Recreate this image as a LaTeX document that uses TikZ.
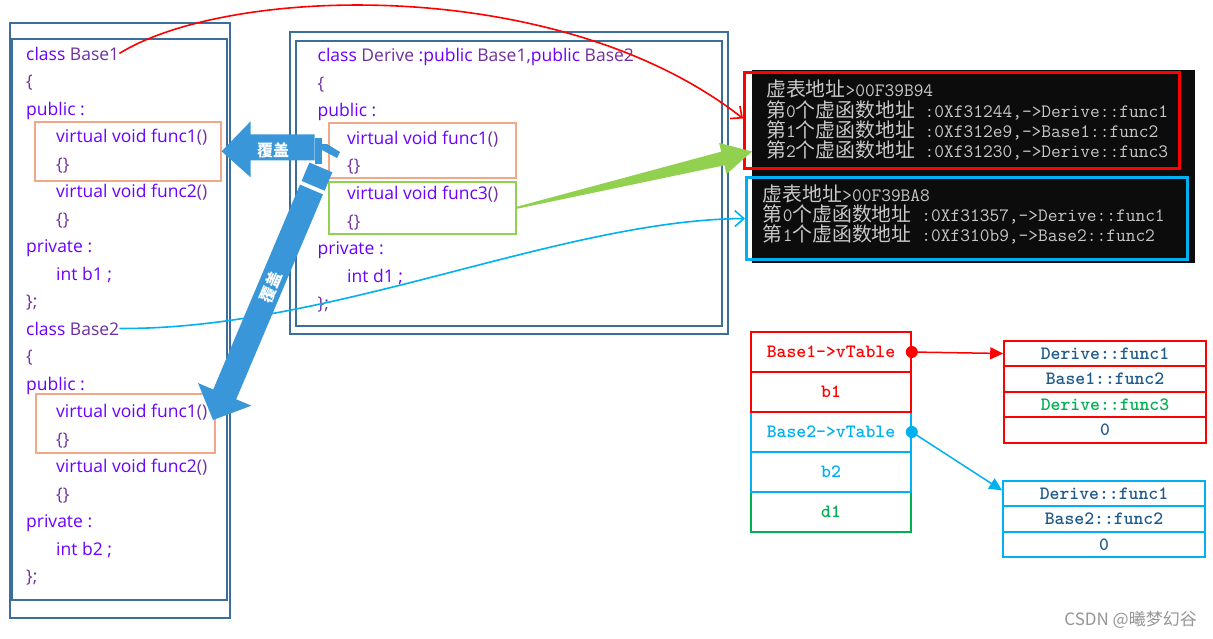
\documentclass[tikz,border=0pt]{standalone}
\usepackage{fontspec}
\setmainfont{Open Sans}
\newfontfamily\cjk{Noto Sans CJK SC}
\usetikzlibrary{arrows.meta,calc}
\definecolor{kw}{RGB}{106,0,255}
\definecolor{idc}{RGB}{112,48,160}
\definecolor{panel}{RGB}{60,110,155}
\definecolor{orng}{RGB}{242,168,136}
\definecolor{grn}{RGB}{146,208,80}
\definecolor{bluA}{RGB}{57,151,217}
\definecolor{cyn}{RGB}{0,176,240}
\definecolor{tgrn}{RGB}{0,176,80}
\definecolor{navy}{RGB}{30,90,140}
\definecolor{congray}{RGB}{200,200,200}
\definecolor{conbg}{RGB}{12,12,12}
\newcommand\Pid[1]{\textcolor{idc}{#1}}
\newcommand\cjkc{\cjk\fontsize{19.86}{20}\selectfont}
\tikzset{
  code/.style={anchor=base west, inner sep=0pt, text=kw, font=\fontsize{17.5}{20}\selectfont},
  panelbox/.style={draw=panel, line width=2pt, anchor=north west, inner sep=0pt},
  hbox/.style={line width=1.6pt, anchor=north west, inner sep=0pt},
  conline/.style={anchor=base west, inner sep=0pt, text=congray, font=\ttfamily\fontsize{18.9}{20}\selectfont},
  cell/.style={draw, line width=1.6pt, minimum width=160pt, minimum height=40pt, inner sep=0pt, font=\ttfamily\bfseries\fontsize{18.8}{20}\selectfont},
  vcell/.style={draw, line width=1.6pt, minimum width=202pt, minimum height=25.5pt, inner sep=0pt, text=navy, font=\ttfamily\bfseries\fontsize{18.8}{20}\selectfont},
  fo/.style={text=white, inner sep=0pt, font=\cjk\bfseries\fontsize{16}{16}\selectfont}
}
\begin{document}
\begin{tikzpicture}[x=1pt,y=-1pt]
\useasboundingbox[fill=white] (0,0) rectangle (1213,638);
% ---------- left panel
\node[panelbox, minimum width=220pt, minimum height=595pt] (lpo) at (9,22) {};
\node[panelbox, minimum width=215pt, minimum height=561pt] (lpi) at (11,38) {};
\node[hbox, draw=orng, minimum width=186pt, minimum height=59pt] (ob1) at (34,121) {};
\node[hbox, draw=orng, minimum width=179pt, minimum height=59pt] (ob2) at (35,393) {};
\node[code] (l1) at (26,60) {class \Pid{Base1}};
\node[code] (l2) at (26,87.5) {\Pid{\{}};
\node[code] (l3) at (26,115) {public :};
\node[code] (l4) at (56,142.5) {virtual void func1\Pid{()}};
\node[code] (l5) at (56,170) {\Pid{\{\}}};
\node[code] (l6) at (56,197.5) {virtual void func2\Pid{()}};
\node[code] (l7) at (56,225) {\Pid{\{\}}};
\node[code] (l8) at (26,252.5) {private :};
\node[code] (l9) at (56,280) {int b1 ;};
\node[code] (l10) at (26,307.5) {\Pid{\};}};
\node[code] (l11) at (26,335) {class \Pid{Base2}};
\node[code] (l12) at (26,362.5) {\Pid{\{}};
\node[code] (l13) at (26,390) {public :};
\node[code] (l14) at (56,417.5) {virtual void func1\Pid{()}};
\node[code] (l15) at (56,445) {\Pid{\{\}}};
\node[code] (l16) at (56,472.5) {virtual void func2\Pid{()}};
\node[code] (l17) at (56,500) {\Pid{\{\}}};
\node[code] (l18) at (26,527.5) {private :};
\node[code] (l19) at (56,555) {int b2 ;};
\node[code] (l20) at (26,582.5) {\Pid{\};}};
% ---------- middle panel
\node[panelbox, minimum width=438pt, minimum height=302pt] (mpo) at (289,31) {};
\node[panelbox, minimum width=426pt, minimum height=285pt] (mpi) at (295,40) {};
\node[hbox, draw=orng, minimum width=187pt, minimum height=55pt] (ob3) at (328,122) {};
\node[hbox, draw=grn, minimum width=187pt, minimum height=52pt] (gb) at (328,181) {};
\node[code] (m1) at (317.5,61.5) {class \Pid{Derive} :public \Pid{Base1,}public \Pid{Base2}};
\node[code] (m2) at (317.5,89) {\Pid{\{}};
\node[code] (m3) at (317.5,116.6) {public :};
\node[code] (m4) at (347,144.2) {virtual void func1\Pid{()}};
\node[code] (m5) at (347,171.8) {\Pid{\{\}}};
\node[code] (m6) at (347,199.4) {virtual void func3\Pid{()}};
\node[code] (m7) at (347,227) {\Pid{\{\}}};
\node[code] (m8) at (317.5,254.6) {private :};
\node[code] (m9) at (347,282.2) {int d1 ;};
\node[code] (m10) at (317.5,309.8) {\Pid{\};}};
% ---------- console
\fill[conbg] (752,70) rectangle (1195,263);
\node[hbox, draw=red, line width=3pt, minimum width=435pt, minimum height=96pt] (redbox) at (743,71) {};
\node[hbox, draw=cyn, line width=3pt, minimum width=441pt, minimum height=82pt] (bluebox) at (745,176) {};
\node[conline] (c1) at (766,96.7) {{\cjkc 虚表地址}>00F39B94};
\node[conline] (c2) at (766,117.3) {{\cjkc 第}0{\cjkc 个虚函数地址} :0Xf31244,->Derive::func1};
\node[conline] (c3) at (766,137.3) {{\cjkc 第}1{\cjkc 个虚函数地址} :0Xf312e9,->Base1::func2};
\node[conline] (c4) at (766,157.3) {{\cjkc 第}2{\cjkc 个虚函数地址} :0Xf31230,->Derive::func3};
\node[conline] (c5) at (762.7,201.7) {{\cjkc 虚表地址}>00F39BA8};
\node[conline] (c6) at (762.7,221.7) {{\cjkc 第}0{\cjkc 个虚函数地址} :0Xf31357,->Derive::func1};
\node[conline] (c7) at (762.7,241.7) {{\cjkc 第}1{\cjkc 个虚函数地址} :0Xf310b9,->Base2::func2};
% ---------- object layout
\node[cell, draw=tgrn, text=tgrn] (s5) at (831,512) {d1};
\node[cell, draw=cyn, text=cyn] (s4) at (831,472) {b2};
\node[cell, draw=cyn, text=cyn] (s3) at (831,432) {Base2->vTable};
\node[cell, draw=red, text=red] (s2) at (831,392) {b1};
\node[cell, draw=red, text=red] (s1) at (831,352) {Base1->vTable};
\node[vcell, draw=red] (t1a) at (1105,353.5) {Derive::func1};
\node[vcell, draw=red] (t1b) at (1105,379) {Base1::func2};
\node[vcell, draw=red, text=tgrn] (t1c) at (1105,404.5) {Derive::func3};
\node[vcell, draw=red] (t1d) at (1105,430) {0};
\node[vcell, draw=cyn] (t2a) at (1104,493.5) {Derive::func1};
\node[vcell, draw=cyn] (t2b) at (1104,519) {Base2::func2};
\node[vcell, draw=cyn] (t2c) at (1104,544.5) {0};
\node[circle, fill=red, inner sep=0pt, minimum size=12pt] (dr) at (s1.east) {};
\node[circle, fill=cyn, inner sep=0pt, minimum size=12pt] (dc) at (s3.east) {};
\draw[red, line width=1.5pt, -{Triangle[length=13pt,width=12pt]}] (dr.center) -- (t1a.west);
\draw[cyn, line width=1.5pt, -{Triangle[length=13pt,width=12pt]}] (dc.center) -- ($(t2a.west)+(0,-3)$);
% ---------- curves
\draw[red, line width=1.6pt, -{Straight Barb[length=9pt,width=16pt]}] (l1.east) .. controls (230,-15) and (560,-25) .. ($(redbox.west)+(0,-2)$);
\draw[cyn, line width=1.6pt, -{Straight Barb[length=9pt,width=16pt]}] (l11.east) .. controls (330,330) and (560,220) .. (bluebox.west);
% ---------- green tapered arrow
\coordinate (gs) at (gb.east);
\coordinate (gt) at ($(redbox.west)+(9,31)$);
\coordinate (hb) at ($(gt)!30pt!(gs)$);
\fill[grn] ($(gs)!1pt!90:(gt)$) -- ($(hb)!7pt!90:(gt)$) -- ($(hb)!16pt!90:(gt)$) -- (gt)
  -- ($(hb)!16pt!-90:(gt)$) -- ($(hb)!7pt!-90:(gt)$) -- ($(gs)!1pt!-90:(gt)$) -- cycle;
% ---------- blue override arrows
\fill[bluA] (ob1.east) -- ++(29,-30) -- ++(0,13) -- ++(64,0) -- ++(0,26) -- ++(-64,0) -- ++(0,17) -- cycle;
\fill[bluA] (315,137.5) rectangle (322,163.5);
\fill[bluA] (322,144) -- (327,144) -- (340,152) -- (337,158) -- (322,150) -- cycle;
\node[fo] (fo1) at (273,150) {覆盖};
\fill[bluA] (309.4,162.5) -- (332.4,172.3) -- (324.6,190.7) -- (301.6,180.9) -- cycle;
\coordinate (dtip) at (ob2.east);
\fill[bluA] (300,184.6) -- (323,194.4) -- (236.2,399.3) -- (251.4,405.7) -- (213,420) -- (198,383) -- (213.2,389.5) -- cycle;
\node[fo, rotate=67] (fo2) at (271,287) {覆盖};
% ---------- watermark
\node[anchor=base east, inner sep=0pt, text={rgb,255:red,150;green,150;blue,150}, font=\cjk\fontsize{17}{17}\selectfont] (wm) at (1197,625) {CSDN @曦梦幻谷};
\end{tikzpicture}
\end{document}
